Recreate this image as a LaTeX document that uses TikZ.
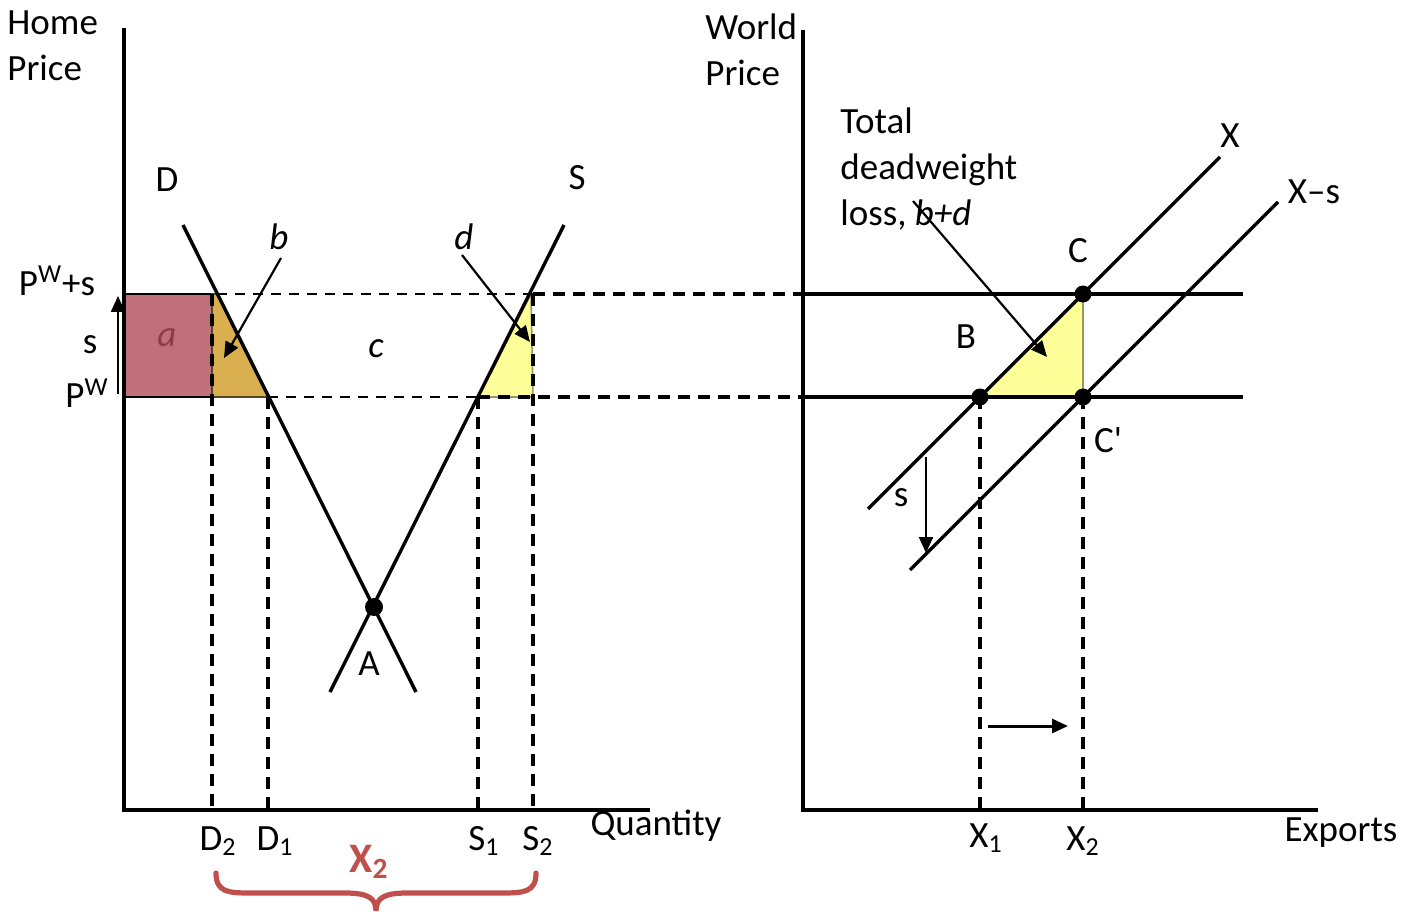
\documentclass[tikz,border=0pt]{standalone}
\usepackage{fontspec}
\setmainfont{Carlito}
\usetikzlibrary{arrows.meta}
\definecolor{areaA}{RGB}{192,112,122}
\definecolor{labA}{RGB}{140,60,72}
\definecolor{areaB}{RGB}{217,175,79}
\definecolor{areaY}{RGB}{255,255,153}
\definecolor{braceRed}{RGB}{192,80,77}
\tikzset{
  axis/.style={line width=1.8pt},
  curve/.style={line width=1.7pt},
  guide/.style={line width=1.6pt, dash pattern=on 6pt off 4pt},
  thinguide/.style={line width=0.9pt, dash pattern=on 5pt off 4pt},
  ptr/.style={line width=1.1pt, -{Triangle[length=8pt,width=7pt]}},
  dot/.style={circle, fill=black, inner sep=0pt, minimum size=8.5pt},
  lbl/.style={font=\fontsize{18.5}{23}\selectfont, inner sep=0pt},
}
\begin{document}
\begin{tikzpicture}[x=0.5pt, y=-0.5pt]
\useasboundingbox (0,0) rectangle (1412,914);

% axes
\coordinate (O1) at (124,810);
\coordinate (yT1) at (124,28);
\coordinate (xR1) at (650,810);
\coordinate (O2) at (803,810);
\coordinate (yT2) at (803,30);
\coordinate (xR2) at (1318,810);

% home market points
\coordinate (Dtop) at (183,225);
\coordinate (Dbot) at (416,692);
\coordinate (Stop) at (564,225);
\coordinate (Sbot) at (330,692);
\coordinate (D2top) at (212,294);
\coordinate (D2) at (212,810);
\coordinate (Dhi) at (217,294);
\coordinate (D1top) at (268,397);
\coordinate (D1) at (268,810);
\coordinate (S1top) at (478,397);
\coordinate (S1) at (478,810);
\coordinate (Shi) at (531,294);
\coordinate (S2top) at (533,294);
\coordinate (S2) at (533,810);
\coordinate (PsL) at (124,294);
\coordinate (PwL) at (124,397);
\coordinate (D2w) at (212,397);
\coordinate (S2w) at (533,397);

% world market points
\coordinate (PsR) at (803,294);
\coordinate (PwR) at (803,397);
\coordinate (PsE) at (1243,294);
\coordinate (PwE) at (1243,397);
\coordinate (Bpt) at (980,397);
\coordinate (Cpt) at (1083,294);
\coordinate (Cqt) at (1083,397);
\coordinate (Xlo) at (868,509);
\coordinate (Xhi) at (1220,157);
\coordinate (Xslo) at (910,570);
\coordinate (Xshi) at (1278,202);
\coordinate (X1) at (980,810);
\coordinate (X2) at (1083,810);

% areas
\filldraw[fill=areaA, line width=1.2pt] (PsL) rectangle (D2w);
\filldraw[fill=areaB, draw=black!60!areaB, line width=0.8pt] (D2top) -- (Dhi) -- (D1top) -- (D2w) -- cycle;
\filldraw[fill=areaY, draw=black!40!areaY, line width=0.8pt] (S1top) -- (Shi) -- (S2w) -- cycle;
\filldraw[fill=areaY, draw=black!40!areaY, line width=0.8pt] (Bpt) -- (Cpt) -- (Cqt) -- cycle;

% axes
\draw[axis] (yT1) -- (O1) -- (xR1);
\draw[axis] (yT2) -- (O2) -- (xR2);

% demand and supply
\draw[curve] (Dtop) -- (Dbot);
\draw[curve] (Stop) -- (Sbot);
\node[dot, minimum size=9pt] (Apt) at (374,607) {};

% price guides
\draw[thinguide] (Dhi) -- (S2top);
\draw[thinguide] (D1top) -- (S1top);
\draw[guide] (S2top) -- (PsR);
\draw[guide] (S1top) -- (PwR);
\draw[guide] (D2top) -- (D2);
\draw[guide] (D1top) -- (D1);
\draw[guide] (S1top) -- (S1);
\draw[guide] (S2top) -- (S2);

% world market
\draw[curve] (PsR) -- (PsE);
\draw[curve] (PwR) -- (PwE);
\draw[curve] (Xlo) -- (Xhi);
\draw[curve] (Xslo) -- (Xshi);
\draw[guide] (Bpt) -- (X1);
\draw[guide] (Cqt) -- (X2);
\node[dot] (Bdot) at (Bpt) {};
\node[dot] (Cdot) at (Cpt) {};
\node[dot] (Cqdot) at (Cqt) {};

% labels
\node[lbl, anchor=west, align=left] (hp) at (7,46) {Home\\Price};
\node[lbl, anchor=west, align=left] (wp) at (705,50) {World\\Price};
\node[lbl] (Dlab) at (167,180) {D};
\node[lbl] (Slab) at (577,178) {S};
\node[lbl] (Alab) at (369,664) {A};
\node[lbl] (psl) at (57,281) {P\textsuperscript{W}+s};
\node[lbl] (pwl) at (87,393) {P\textsuperscript{W}};
\node[lbl] (sl) at (90,345) {s};
\node[lbl, text=labA] (alab) at (167,338) {\itshape a};
\node[lbl] (blab) at (279,237) {\itshape b};
\node[lbl] (clab) at (376,349) {\itshape c};
\node[lbl] (dlab) at (464,237) {\itshape d};
\node[lbl] (d2l) at (218,841) {D\textsubscript{2}};
\node[lbl] (d1l) at (275,841) {D\textsubscript{1}};
\node[lbl] (s1l) at (484,841) {S\textsubscript{1}};
\node[lbl] (s2l) at (538,841) {S\textsubscript{2}};
\node[lbl] (qty) at (656,826) {Quantity};
\node[lbl, text=braceRed, font=\fontsize{21}{25}\selectfont\bfseries] (x2red) at (369,862) {X\textsubscript{2}};
\node[lbl, anchor=west, align=left] (dwl) at (840,169) {Total\\deadweight\\loss, \textit{b+d}};
\node[lbl] (Clab) at (1078,251) {C};
\node[lbl] (Blab) at (966,337) {B};
\node[lbl] (Cqlab) at (1108,440) {C\textquotesingle};
\node[lbl] (Xlab) at (1230,136) {X};
\node[lbl] (Xslab) at (1314,192) {X\textendash s};
\node[lbl] (sr) at (901,498) {s};
\node[lbl] (x1l) at (986,838) {X\textsubscript{1}};
\node[lbl] (x2l) at (1083,841) {X\textsubscript{2}};
\node[lbl] (exp) at (1341,833) {Exports};

% pointers
\coordinate (bfrom) at (281,258);
\coordinate (bto) at (224,358);
\coordinate (dfrom) at (462,255);
\coordinate (dto) at (530,342);
\coordinate (wfrom) at (913,201);
\coordinate (wto) at (1047,357);
\coordinate (supA) at (118,394);
\coordinate (supB) at (118,296);
\coordinate (shA) at (926,457);
\coordinate (shB) at (926,553);
\coordinate (exA) at (988,726);
\coordinate (exB) at (1068,726);
\draw[ptr] (bfrom) -- (bto);
\draw[ptr] (dfrom) -- (dto);
\draw[ptr] (wfrom) -- (wto);
\draw[ptr] (supA) -- (supB);
\draw[ptr] (shA) -- (shB);
\draw[ptr, line width=1.5pt] (exA) -- (exB);

% brace under exports
\draw[braceRed, line width=2.6pt, line cap=round]
  (216,873) .. controls (216,892) and (228,893) .. (250,893)
  -- (345,893) .. controls (368,893) and (376,898) .. (376,911)
  .. controls (376,898) and (384,893) .. (407,893)
  -- (502,893) .. controls (524,893) and (536,892) .. (536,873);
\end{tikzpicture}
\end{document}
